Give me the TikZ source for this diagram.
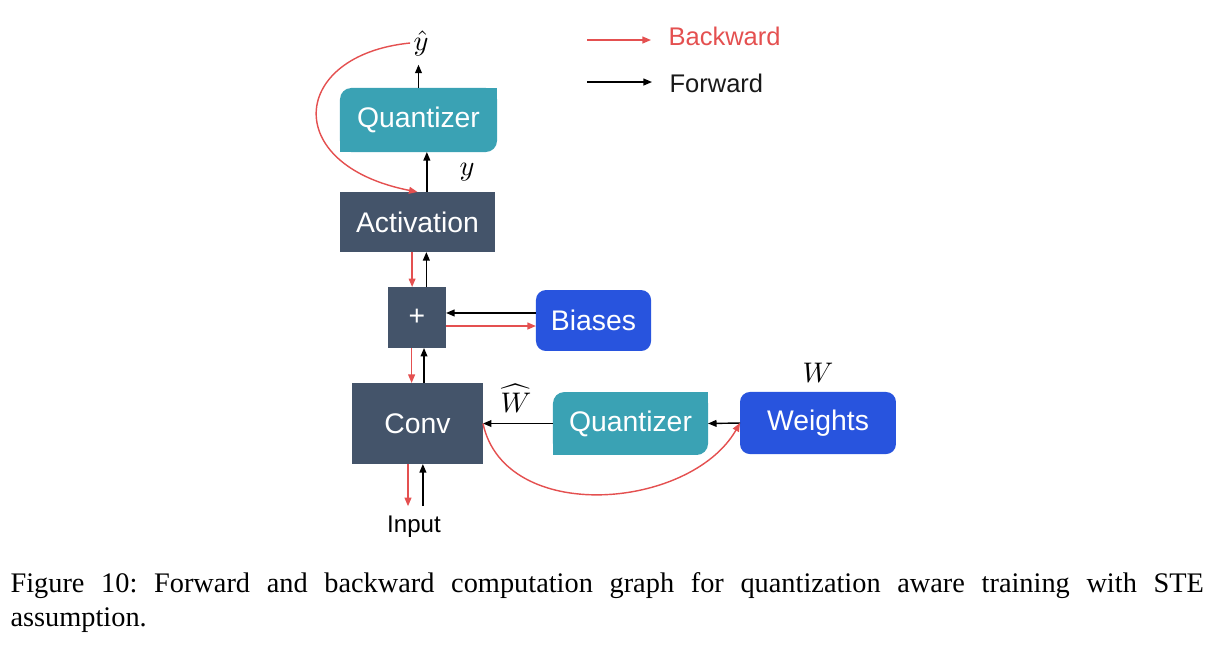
\documentclass[tikz,border=0pt]{standalone}
\usepackage{fontspec}
\setmainfont{Liberation Serif}
\newfontfamily\boxfont{Liberation Sans}
\usetikzlibrary{arrows.meta,calc}
\hyphenpenalty=10000
\frenchspacing
\definecolor{slate}{RGB}{68,84,106}
\definecolor{qteal}{RGB}{58,162,180}
\definecolor{pblue}{RGB}{40,84,222}
\definecolor{bwdc}{RGB}{228,80,80}
\tikzset{
  blk/.style={draw=none,text=white,inner sep=0pt,outer sep=0pt,font=\boxfont\fontsize{10}{12}\selectfont},
  fwd/.style={-{Triangle[length=3pt,width=2.4pt]},line width=0.5pt,black},
  bwd/.style={-{Triangle[length=3pt,width=2.4pt]},line width=0.5pt,bwdc},
  mlbl/.style={inner sep=1pt,font=\fontsize{10}{12}\selectfont},
}

\begin{document}
\begin{tikzpicture}[x=0.3528pt,y=-0.3528pt]
  \useasboundingbox (0,0) rectangle (1216,646);
  % main column, top to bottom
  \node[blk,fill=qteal,rounded corners=4pt,minimum width=55.4pt,minimum height=22.6pt] (qtop) at (418.5,120) {Quantizer};
  \node[blk,fill=slate,minimum width=54.7pt,minimum height=21.2pt] (act) at (417.5,222) {Activation};
  \node[blk,fill=slate,minimum width=20.5pt,minimum height=21.5pt] (plus) at (417,317.5) {+};
  \node[blk,fill=slate,minimum width=46.2pt,minimum height=28.6pt] (conv) at (417.5,423.5) {Conv};
  % side boxes
  \node[blk,fill=pblue,rounded corners=3.5pt,minimum width=40.6pt,minimum height=21.5pt] (bias) at (593.5,320.5) {Biases};
  \node[blk,fill=qteal,rounded corners=4pt,minimum width=54.7pt,minimum height=22.2pt] (qbot) at (630.5,423.5) {Quantizer};
  \node[blk,fill=pblue,rounded corners=3.5pt,minimum width=55pt,minimum height=21.9pt] (wts) at (818,423) {Weights};
  % quantizers only round two corners
  \foreach \q in {qtop,qbot}{%
    \fill[qteal] (\q.north east) rectangle ++(-14,14);
    \fill[qteal] (\q.south west) rectangle ++(14,-14);}
  % math labels and input
  \node[mlbl] (yhat) at (421,43) {$\hat{y}$};
  \node[mlbl] (ylab) at (467,172) {$y$};
  \node[mlbl] (wlab) at (818,373) {$W$};
  \node[mlbl] (whlab) at (516,398) {$\widehat{W}$};
  \node[font=\boxfont\fontsize{8.5}{10}\selectfont] (inp) at (414,527) {Input};
  % forward pass
  \draw[fwd] (qtop.north) -- ([yshift=-2pt]qtop.north |- yhat.south);
  \draw[fwd] ([xshift=3.3pt]act.north) -- ([xshift=3.3pt]act.north |- qtop.south);
  \draw[fwd] ([xshift=3.3pt]plus.north) -- ([xshift=3.3pt]plus.north |- act.south);
  \draw[fwd] ([xshift=2.3pt]conv.north) -- ([xshift=2.3pt]conv.north |- plus.south);
  \draw[fwd] ([xshift=1.9pt]conv.south |- inp.north) -- ([xshift=1.9pt]conv.south);
  \draw[fwd] ([yshift=1.6pt]plus.east -| bias.west) -- ([yshift=1.6pt]plus.east);
  \draw[fwd] (qbot.west) -- (conv.east);
  \draw[fwd] (wts.west) -- (qbot.east);
  % backward pass
  \draw[bwd] (yhat.west) .. controls (290,55) and (280,165) .. (act.north);
  \draw[bwd] ([xshift=-1.9pt]act.south) -- ([xshift=-1.9pt]act.south |- plus.north);
  \draw[bwd] ([xshift=-1.9pt]plus.south) -- ([xshift=-1.9pt]plus.south |- conv.north);
  \draw[bwd] ([xshift=-3.35pt]conv.south) -- ([xshift=-3.35pt]conv.south |- inp.north);
  \draw[bwd] ([yshift=-3pt]plus.east) -- ([yshift=-3pt]plus.east -| bias.west);
  \draw[bwd] (conv.east) .. controls (505,525) and (690,510) .. (wts.west);
  % legend
  \node[anchor=west,inner sep=0pt,text=bwdc,font=\boxfont\fontsize{9}{11}\selectfont] (bk) at (668,36) {Backward};
  \node[anchor=west,inner sep=0pt,text=black!90,font=\boxfont\fontsize{9}{11}\selectfont] (fw) at (669,83) {Forward};
  \coordinate (b0) at (587,40);
  \coordinate (f0) at (587,82);
  \draw[bwd] (b0) -- ([xshift=-6pt]b0 -| bk.west);
  \draw[fwd] (f0) -- ([xshift=-6pt]f0 -| fw.west);
  % caption
  \node[anchor=north west,inner sep=0pt,text width=421pt,align=justify,font=\fontsize{10}{12}\selectfont] (cap) at (10,572)
    {Figure 10: Forward and backward computation graph for quantization aware training with STE\linebreak assumption.};
\end{tikzpicture}
\end{document}
